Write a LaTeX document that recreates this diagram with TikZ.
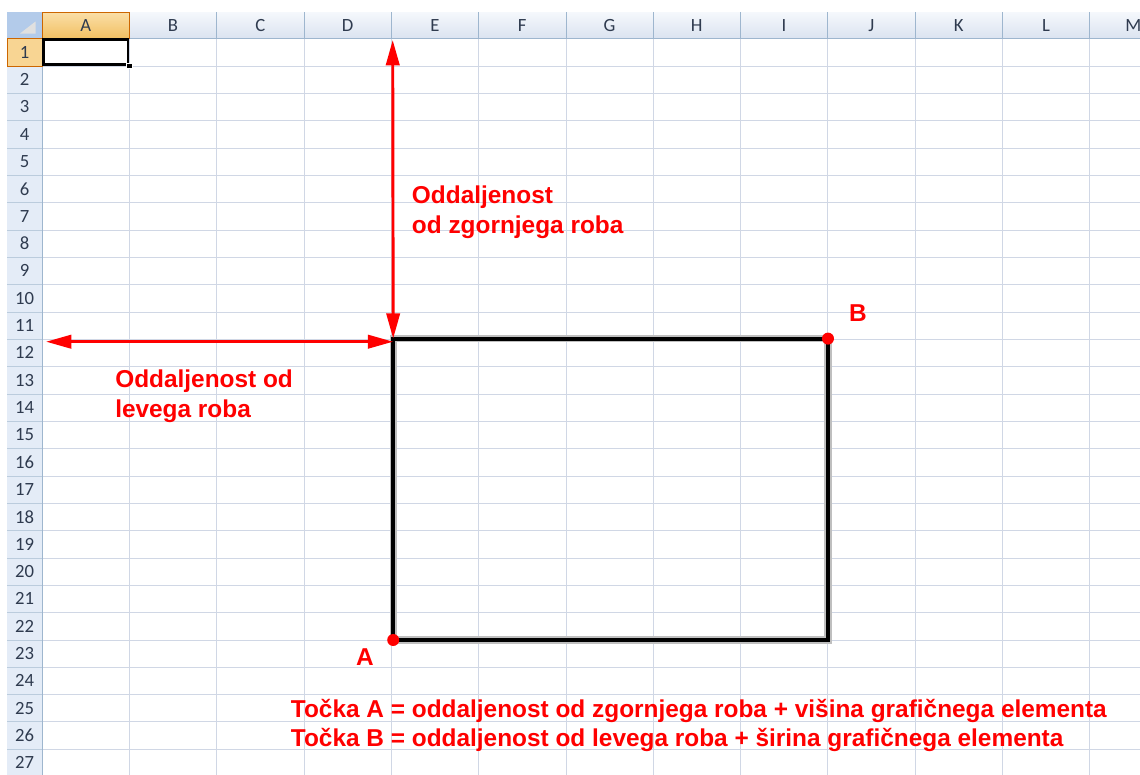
\documentclass[tikz,border=0pt]{standalone}
\usepackage{fontspec}
\setmainfont{Liberation Sans}
\newfontfamily\hdrfont{Carlito}
\usetikzlibrary{arrows.meta}
\definecolor{gridline}{HTML}{D0D7E5}
\definecolor{hdrline}{HTML}{9EB6CE}
\definecolor{hdrtop}{HTML}{F5F8FC}
\definecolor{hdrbot}{HTML}{DAE3F0}
\definecolor{rowfill}{HTML}{E4ECF7}
\definecolor{seltop}{HTML}{FADFA8}
\definecolor{selbot}{HTML}{F2C062}
\definecolor{rowsel}{HTML}{F8D593}
\definecolor{cornerfill}{HTML}{B3CBEA}
\definecolor{hdrtext}{HTML}{2F3B4F}
\definecolor{markred}{HTML}{FF0000}

\begin{document}
\begin{tikzpicture}[x=0.75pt,y=-0.75pt,
  hdr/.style={font=\hdrfont\fontsize{14}{16}\selectfont, text=hdrtext, inner sep=0pt},
  note/.style={font=\bfseries\fontsize{18.3}{22.5}\selectfont, text=markred, align=left, inner sep=0pt},
  measure/.style={{Triangle[length=19pt,width=10pt]}-{Triangle[length=19pt,width=10pt]}, markred, line width=2.2pt},
  corner/.style={circle, fill=markred, inner sep=0pt, minimum size=9pt},
  frame/.style={line width=3pt, black, line join=miter}
]
\clip (0,0) rectangle (1140,775);
\fill[white] (0,0) rectangle (1140,775);

\fill[top color=hdrtop, bottom color=hdrbot] (7,12) rectangle (1140,38.5);
\fill[rowfill] (7,38.5) rectangle (42,775);
\fill[top color=seltop, bottom color=selbot] (42,12) rectangle (129.3,38.5);
\fill[rowsel] (7,38.5) rectangle (42,65.8);
\fill[cornerfill] (7,12) rectangle (42,38.5);
\fill[white!88!black] (35.5,21.5) -- (35.5,33.5) -- (20,33.5) -- cycle;

\foreach \i in {1,...,13}{
  \draw[gridline] (42+\i*87.3,38.5) -- (42+\i*87.3,775);
  \draw[hdrline] (42+\i*87.3,12) -- (42+\i*87.3,38.5);
}
\foreach \j in {1,...,27}{
  \draw[gridline] (42,38.5+\j*27.33) -- (1140,38.5+\j*27.33);
  \draw[hdrline!70!white] (7,38.5+\j*27.33) -- (42,38.5+\j*27.33);
}
\draw[hdrline] (7,38.5) -- (1140,38.5);
\draw[hdrline] (42,12) -- (42,775);
\draw[orange!80!black] (42,12) rectangle (129.3,38.5);
\draw[orange!80!black] (7,38.5) rectangle (42,65.8);

\foreach \l [count=\i] in {A,B,C,D,E,F,G,H,I,J,K,L,M}
  \node[hdr] (col\l) at (42+\i*87.3-43.65,26) {\l};
\foreach \r in {1,...,27}
  \node[hdr] (row\r) at (24.5,38.5+\r*27.33-13.67) {\r};

\draw[line width=2pt] (43.2,39.7) rectangle (128.1,64.6);
\fill[black, draw=white, line width=0.5pt] (126.5,63) rectangle (132,68.5);

\coordinate (tl) at (393.2,338.6);
\coordinate (tr) at (828,338.6);
\coordinate (bl) at (393.2,640);
\coordinate (br) at (828,640);
\coordinate (topedge) at (392.7,40);
\coordinate (leftedge) at (46,341.7);

\draw[line width=5.5pt, black!25] (tl) rectangle (br);
\draw[frame] (tl) rectangle (br);

\draw[measure] (topedge) -- (tl);
\draw[measure] (leftedge) -- (leftedge -| tl);

\node[corner] (ptA) at (bl) {};
\node[corner] (ptB) at (tr) {};
\node[note] (labA) at (365,657) {A};
\node[note] (labB) at (858,313) {B};

\node[note, anchor=base west] (topnote) at (411.7,233) {Oddaljenost\\od zgornjega roba};
\node[note, anchor=base west] (leftnote) at (115,417.3) {Oddaljenost od\\levega roba};
\node[note, anchor=base west, font=\bfseries\fontsize{18.3}{22}\selectfont] (formula) at (290.7,746.7)
  {Točka A = oddaljenost od zgornjega roba + višina grafičnega elementa\\Točka B = oddaljenost od levega roba + širina grafičnega elementa};
\end{tikzpicture}
\end{document}
